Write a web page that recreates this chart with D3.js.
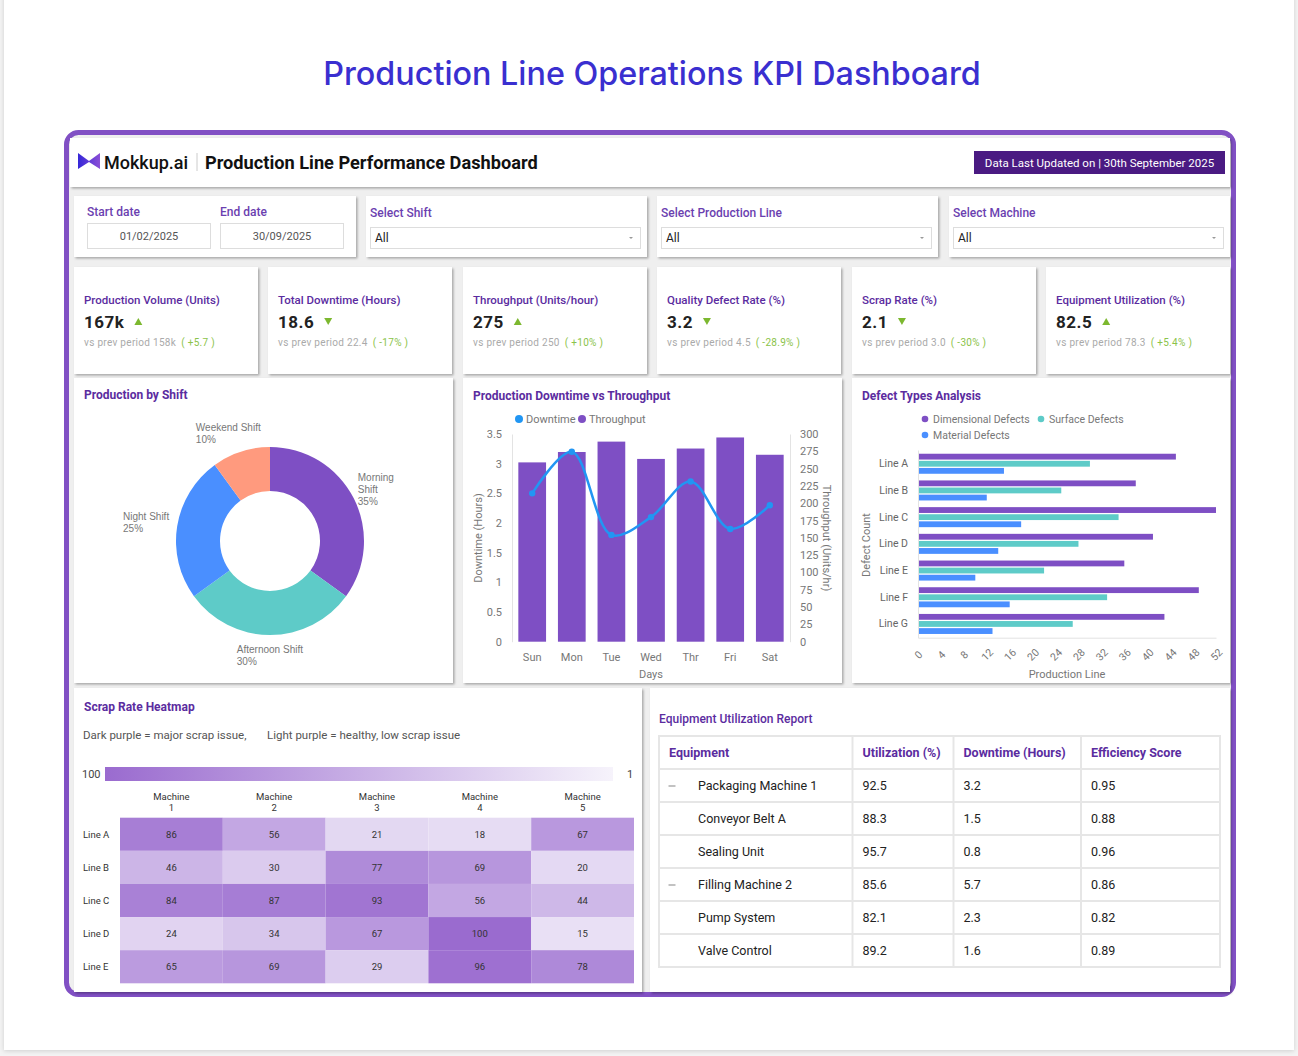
<!DOCTYPE html>
<html lang="en">
<head>
<meta charset="UTF-8">
<title>Production Line Operations KPI Dashboard</title>
<script src="https://cdn.jsdelivr.net/npm/d3@7/dist/d3.min.js"></script>
<style>
  * { margin: 0; padding: 0; }
  body { background: #f3f3f3; font-family: Roboto, sans-serif; }
  svg { display: block; }
</style>
</head>
<body>
<svg id="dash"></svg>
<script>
// ---- data ----
const kpiTitles = ['Production Volume (Units)', 'Total Downtime (Hours)', 'Throughput (Units/hour)',
  'Quality Defect Rate (%)', 'Scrap Rate (%)', 'Equipment Utilization (%)'];
const kpiValues = ['167k', '18.6', '275', '3.2', '2.1', '82.5'];
const kpiPrev = ['158k', '22.4', '250', '4.5', '3.0', '78.3'];
const kpiChange = ['+5.7', '-17%', '+10%', '-28.9%', '-30%', '+5.4%'];
const kpiUp = [true, false, true, false, false, true];

const shiftNames = ['Morning Shift', 'Afternoon Shift', 'Night Shift', 'Weekend Shift'];
const shiftShare = [35, 30, 25, 10];

const days = ['Sun', 'Mon', 'Tue', 'Wed', 'Thr', 'Fri', 'Sat'];
const downtimeHours = [2.5, 3.2, 1.8, 2.1, 2.7, 1.9, 2.3];
const throughputUnits = [259, 274, 289, 264, 279, 295, 270];

const prodLines = ['Line A', 'Line B', 'Line C', 'Line D', 'Line E', 'Line F', 'Line G'];
const defectSeries = ['Dimensional Defects', 'Surface Defects', 'Material Defects'];
const dimensionalDefects = [45, 38, 52, 41, 36, 49, 43];
const surfaceDefects = [30, 25, 35, 28, 22, 33, 27];
const materialDefects = [15, 12, 18, 14, 10, 16, 13];

const heatLines = ['Line A', 'Line B', 'Line C', 'Line D', 'Line E'];
const machines = ['Machine 1', 'Machine 2', 'Machine 3', 'Machine 4', 'Machine 5'];
const scrapValues = [
  [86, 56, 21, 18, 67],
  [46, 30, 77, 69, 20],
  [84, 87, 93, 56, 44],
  [24, 34, 67, 100, 15],
  [65, 69, 29, 96, 78]
];

const tableHeaders = ['Equipment', 'Utilization (%)', 'Downtime (Hours)', 'Efficiency Score'];
const equipmentNames = ['Packaging Machine 1', 'Conveyor Belt A', 'Sealing Unit', 'Filling Machine 2', 'Pump System', 'Valve Control'];
const utilizationPct = ['92.5', '88.3', '95.7', '85.6', '82.1', '89.2'];
const downtimeHrs = ['3.2', '1.5', '0.8', '5.7', '2.3', '1.6'];
const efficiencyScore = ['0.95', '0.88', '0.96', '0.86', '0.82', '0.89'];
const isGroupRow = [true, false, false, true, false, false];

// ---- colours ----
const titlePurple = '#5b2c9f';
const barPurple = '#7e4fc4';
const teal = '#5ecbc8';
const blue = '#4a8fff';
const lineBlue = '#2196f3';
const salmon = '#ff9a7e';
const green = '#7cb82f';

const svg = d3.select('#dash').attr('width', 1298).attr('height', 1056);
const defs = svg.append('defs');
defs.append('filter').attr('id', 'shadow').attr('x', '-5%').attr('y', '-5%').attr('width', '110%').attr('height', '115%')
  .append('feDropShadow').attr('dx', 1.5).attr('dy', 1.5).attr('stdDeviation', 1.2)
  .attr('flood-color', '#000').attr('flood-opacity', 0.3);
defs.append('filter').attr('id', 'pageShadow')
  .append('feDropShadow').attr('dx', 0).attr('dy', 1).attr('stdDeviation', 2)
  .attr('flood-color', '#000').attr('flood-opacity', 0.15);

// page + title
svg.append('rect').attr('x', 4).attr('y', -10).attr('width', 1290).attr('height', 1060)
  .attr('fill', '#fff').attr('filter', 'url(#pageShadow)');
svg.append('text').attr('x', 652).attr('y', 85).attr('text-anchor', 'middle')
  .attr('font-family', 'Inter, Roboto, sans-serif').attr('font-size', 32.3).attr('font-weight', 500)
  .attr('fill', '#3a2fd0').text('Production Line Operations KPI Dashboard');

// purple frame
svg.append('rect').attr('x', 66.5).attr('y', 132.5).attr('width', 1167).attr('height', 862).attr('rx', 12)
  .attr('fill', '#efefef').attr('stroke', '#8150c4').attr('stroke-width', 5);

function card(x, y, w, h) {
  const g = svg.append('g').attr('transform', `translate(${x},${y})`);
  g.append('rect').attr('width', w).attr('height', h).attr('fill', '#fff').attr('filter', 'url(#shadow)');
  return g;
}
function label(g, x, y, txt, size, color, weight) {
  return g.append('text').attr('x', x).attr('y', y).attr('font-size', size)
    .attr('fill', color).attr('font-weight', weight || 400).text(txt);
}

// ---- header ----
const head = card(70, 138, 1160, 49);
const lg = defs.append('linearGradient').attr('id', 'logoGrad');
lg.append('stop').attr('offset', '0%').attr('stop-color', '#3527d8');
lg.append('stop').attr('offset', '100%').attr('stop-color', '#8b4fd6');
head.append('path').attr('d', 'M8,15 L19,23 L30,15 L30,31 L19,24 L8,31 Z').attr('fill', 'url(#logoGrad)');
label(head, 34, 31, 'Mokkup.ai', 18, '#111', 500);
head.append('line').attr('x1', 127).attr('x2', 127).attr('y1', 15).attr('y2', 33).attr('stroke', '#ccc');
label(head, 135, 31, 'Production Line Performance Dashboard', 18.2, '#111', 700);
head.append('rect').attr('x', 904).attr('y', 13).attr('width', 251).attr('height', 23).attr('fill', '#4a1a82');
head.append('text').attr('x', 1029.5).attr('y', 28.5).attr('text-anchor', 'middle').attr('font-size', 11.5)
  .attr('fill', '#fff').text('Data Last Updated on | 30th September 2025');

// ---- filters ----
const f1 = card(74, 196, 282, 61);
label(f1, 13, 20, 'Start date', 12, '#6b3fb0', 500);
label(f1, 146, 20, 'End date', 12, '#6b3fb0', 500);
[['01/02/2025', 13.5], ['30/09/2025', 146.5]].forEach(([d, x]) => {
  f1.append('rect').attr('x', x).attr('y', 27.5).attr('width', 123).attr('height', 25)
    .attr('fill', '#fff').attr('stroke', '#ddd');
  f1.append('text').attr('x', x + 61.5).attr('y', 44).attr('text-anchor', 'middle')
    .attr('font-size', 11).attr('fill', '#555').text(d);
});
[['Select Shift', 366], ['Select Production Line', 657], ['Select Machine', 949]].forEach(([t, x]) => {
  const g = card(x, 196, 281, 61);
  label(g, 4, 21, t, 12, '#6b3fb0', 500);
  g.append('rect').attr('x', 4.5).attr('y', 31.5).attr('width', 270).attr('height', 21)
    .attr('fill', '#fff').attr('stroke', '#ddd');
  label(g, 9, 46, 'All', 12, '#222');
  g.append('path').attr('d', 'M263,41 L267,41 L265,43 Z').attr('fill', '#999');
});

// ---- KPI cards ----
const kpiX = [74, 268, 463, 657, 852, 1046];
kpiTitles.forEach((t, i) => {
  const g = card(kpiX[i], 267, 184, 107);
  label(g, 10, 37, t, 11.5, titlePurple, 500);
  const v = label(g, 10, 61, kpiValues[i], 17, '#222', 700).attr('letter-spacing', 0.5);
  const vw = v.node().getComputedTextLength();
  const ax = 10 + vw + 14;
  g.append('path').attr('d', kpiUp[i] ? `M${ax - 4},58 L${ax + 4},58 L${ax},51 Z` : `M${ax - 4},51 L${ax + 4},51 L${ax},58 Z`)
    .attr('fill', green);
  const s = g.append('text').attr('x', 10).attr('y', 79).attr('font-size', 10).attr('letter-spacing', 0.3).attr('fill', '#aaa');
  s.append('tspan').text(`vs prev period ${kpiPrev[i]}`);
  s.append('tspan').attr('dx', 5).attr('fill', '#8bc34a').text(`( ${kpiChange[i]} )`);
});

// ---- Production by Shift (donut) ----
const c1 = card(74, 378, 379, 305);
label(c1, 10, 21, 'Production by Shift', 12, titlePurple, 700);
const shiftColor = d3.scaleOrdinal().domain(shiftNames).range([barPurple, teal, blue, salmon]);
const pie = d3.pie().sort(null).value(d => d.v);
const arcs = pie(shiftNames.map((n, i) => ({ name: n, v: shiftShare[i] })));
const arc = d3.arc().innerRadius(50).outerRadius(94);
const dg = svg.append('g').attr('transform', 'translate(270,541)');
dg.selectAll('path').data(arcs).enter().append('path')
  .attr('d', arc).attr('fill', d => shiftColor(d.data.name));
const labelArc = d3.arc().innerRadius(112).outerRadius(112);
arcs.forEach(d => {
  const [cx, cy] = labelArc.centroid(d);
  const lines = cx > 40 ? d.data.name.split(' ') : [d.data.name];
  lines.push(d.data.v + '%');
  const t = dg.append('text').attr('font-family', '"Liberation Sans", Arial, sans-serif')
    .attr('font-size', 10).attr('fill', '#777');
  lines.forEach((l, j) => t.append('tspan').attr('x', 0).attr('dy', j ? 12 : 0).text(l));
  const w = t.node().getBBox().width;
  let x = cx > 40 ? cx - 12 : cx < -40 ? cx - w + 10 : cx - w / 2;
  let y = cy - (lines.length - 1) * 6 + 3;
  if (Math.abs(cx) <= 40 && cy > 0) y = cy;
  if (Math.abs(cx) <= 40 && cy < 0) { y = cy - 3; x -= 7; }
  t.attr('transform', `translate(${x},${y})`);
});

// ---- Production Downtime vs Throughput ----
const c2 = card(463, 378, 379, 305);
label(c2, 10, 22, 'Production Downtime vs Throughput', 12, titlePurple, 700);
const xDay = d3.scaleBand().domain(days).range([512, 790]).paddingInner(0.3).paddingOuter(0.16);
const yDown = d3.scaleLinear().domain([0, 3.5]).range([641.7, 434]);
const yThru = d3.scaleLinear().domain([0, 300]).range([641.7, 434]);
svg.append('g').selectAll('rect').data(days).enter().append('rect')
  .attr('x', d => xDay(d)).attr('width', xDay.bandwidth())
  .attr('y', (d, i) => yThru(throughputUnits[i])).attr('height', (d, i) => yThru(0) - yThru(throughputUnits[i]))
  .attr('fill', barPurple);
const dLine = d3.line().x((d, i) => xDay(days[i]) + xDay.bandwidth() / 2).y(d => yDown(d)).curve(d3.curveCatmullRom);
svg.append('path').attr('d', dLine(downtimeHours)).attr('fill', 'none').attr('stroke', lineBlue).attr('stroke-width', 2.5);
svg.append('g').selectAll('circle').data(downtimeHours).enter().append('circle')
  .attr('cx', (d, i) => xDay(days[i]) + xDay.bandwidth() / 2).attr('cy', d => yDown(d)).attr('r', 3.2).attr('fill', lineBlue);

function styleAxis(g, size, color) {
  g.selectAll('text').attr('font-size', size).attr('fill', color).attr('font-family', 'Roboto, sans-serif');
  g.select('.domain').attr('stroke', '#e3e3e3');
}
svg.append('g').attr('transform', 'translate(512,0)')
  .call(d3.axisLeft(yDown).tickValues(d3.range(0, 3.51, 0.5)).tickFormat(d3.format('~g')).tickSize(0).tickPadding(10))
  .call(g => styleAxis(g, 11, '#777'));
svg.append('g').attr('transform', 'translate(790,0)')
  .call(d3.axisRight(yThru).tickValues(d3.range(0, 301, 25)).tickSize(0).tickPadding(10))
  .call(g => styleAxis(g, 11, '#777'));
svg.append('g').attr('transform', 'translate(0,641.7)')
  .call(d3.axisBottom(xDay).tickSize(0).tickPadding(12))
  .call(g => { styleAxis(g, 11, '#777'); g.select('.domain').remove(); });
svg.append('text').attr('x', 651).attr('y', 678).attr('text-anchor', 'middle').attr('font-size', 11).attr('fill', '#777').text('Days');
svg.append('text').attr('transform', 'translate(482,538) rotate(-90)').attr('text-anchor', 'middle')
  .attr('font-size', 11).attr('fill', '#777').text('Downtime (Hours)');
svg.append('text').attr('transform', 'translate(823,538) rotate(90)').attr('text-anchor', 'middle')
  .attr('font-size', 11).attr('fill', '#777').text('Throughput (Units/hr)');
const leg2 = svg.append('g').attr('font-size', 11).attr('fill', '#777');
[['Downtime', lineBlue, 519], ['Throughput', barPurple, 582]].forEach(([t, c, x]) => {
  leg2.append('circle').attr('cx', x).attr('cy', 419).attr('r', 4).attr('fill', c);
  leg2.append('text').attr('x', x + 7).attr('y', 423).text(t);
});

// ---- Defect Types Analysis ----
const c3 = card(852, 378, 378, 305);
label(c3, 10, 22, 'Defect Types Analysis', 12, titlePurple, 700);
const defectData = [dimensionalDefects, surfaceDefects, materialDefects];
const defectColor = d3.scaleOrdinal().domain(defectSeries).range([barPurple, teal, blue]);
const yLine = d3.scaleBand().domain(prodLines).range([450, 637.7]).paddingInner(0.25).paddingOuter(0.14);
const ySub = d3.scaleBand().domain(defectSeries).range([0, yLine.bandwidth()]).paddingInner(0.18);
const xDef = d3.scaleLinear().domain([0, 52]).range([918, 1216]);
const dgroups = svg.append('g').selectAll('g').data(prodLines).enter().append('g')
  .attr('transform', d => `translate(0,${yLine(d)})`);
dgroups.selectAll('rect').data((d, i) => defectSeries.map((s, k) => ({ s, v: defectData[k][i] }))).enter().append('rect')
  .attr('x', xDef(0)).attr('y', d => ySub(d.s)).attr('height', ySub.bandwidth())
  .attr('width', d => xDef(d.v) - xDef(0)).attr('fill', d => defectColor(d.s));
svg.append('g').attr('transform', 'translate(918,0)')
  .call(d3.axisLeft(yLine).tickSize(0).tickPadding(10))
  .call(g => styleAxis(g, 10.5, '#666'));
svg.append('g').attr('transform', 'translate(0,637.7)')
  .call(d3.axisBottom(xDef).tickValues(d3.range(0, 53, 4)).tickSize(0))
  .call(g => {
    styleAxis(g, 10.5, '#777');
    g.selectAll('text').attr('y', 0).attr('dy', '0.35em').attr('text-anchor', 'middle')
      .attr('transform', 'translate(0,17) rotate(-45)');
  });
svg.append('text').attr('x', 1067).attr('y', 678).attr('text-anchor', 'middle').attr('font-size', 11).attr('fill', '#777').text('Production Line');
svg.append('text').attr('transform', 'translate(870,545) rotate(-90)').attr('text-anchor', 'middle')
  .attr('font-size', 11).attr('fill', '#777').text('Defect Count');
const leg3 = svg.append('g').attr('font-size', 10.5).attr('fill', '#777');
[[defectSeries[0], 925, 419], [defectSeries[1], 1041, 419], [defectSeries[2], 925, 435]].forEach(([t, x, y]) => {
  leg3.append('circle').attr('cx', x).attr('cy', y).attr('r', 3.3).attr('fill', defectColor(t));
  leg3.append('text').attr('x', x + 8).attr('y', y + 4).text(t);
});

// ---- Scrap Rate Heatmap ----
const c4 = card(74, 688, 568, 304);
label(c4, 10, 23, 'Scrap Rate Heatmap', 12, titlePurple, 700);
const hs = c4.append('text').attr('x', 9).attr('y', 51).attr('font-size', 11.5).attr('fill', '#555');
hs.append('tspan').text('Dark purple = major scrap issue,');
hs.append('tspan').attr('x', 193).text('Light purple = healthy, low scrap issue');
const heatColor = d3.scaleLinear().domain([1, 100]).range(['#f6f3fb', '#9a6bcf']);
const hg = defs.append('linearGradient').attr('id', 'heatGrad');
hg.append('stop').attr('offset', '0%').attr('stop-color', heatColor(100));
hg.append('stop').attr('offset', '100%').attr('stop-color', heatColor(1));
svg.append('rect').attr('x', 105).attr('y', 767).attr('width', 508).attr('height', 14).attr('fill', 'url(#heatGrad)');
svg.append('text').attr('x', 82).attr('y', 778).attr('font-size', 11).attr('fill', '#444').text('100');
svg.append('text').attr('x', 627).attr('y', 778).attr('font-size', 11).attr('fill', '#444').text('1');
const xM = d3.scaleBand().domain(machines).range([120, 634]);
const yH = d3.scaleBand().domain(heatLines).range([817.7, 983.3]);
const cells = [];
heatLines.forEach((l, r) => machines.forEach((m, c) => cells.push({ l, m, v: scrapValues[r][c] })));
svg.append('g').selectAll('rect').data(cells).enter().append('rect')
  .attr('x', d => xM(d.m)).attr('y', d => yH(d.l)).attr('width', xM.bandwidth()).attr('height', yH.bandwidth())
  .attr('fill', d => heatColor(d.v));
svg.append('g').selectAll('text').data(cells).enter().append('text')
  .attr('x', d => xM(d.m) + xM.bandwidth() / 2).attr('y', d => yH(d.l) + yH.bandwidth() / 2 + 3.5)
  .attr('text-anchor', 'middle').attr('font-size', 9.5).attr('fill', '#333').text(d => d.v);
machines.forEach(m => {
  const t = svg.append('text').attr('text-anchor', 'middle').attr('font-size', 9.5).attr('fill', '#333');
  const [a, b] = m.split(' ');
  t.append('tspan').attr('x', xM(m) + xM.bandwidth() / 2).attr('y', 800).text(a);
  t.append('tspan').attr('x', xM(m) + xM.bandwidth() / 2).attr('y', 811).text(b);
});
heatLines.forEach(l => {
  svg.append('text').attr('x', 83).attr('y', yH(l) + yH.bandwidth() / 2 + 3.5)
    .attr('font-size', 9.5).attr('fill', '#333').text(l);
});

// ---- Equipment Utilization Report ----
const c5 = card(650, 688, 580, 304);
label(c5, 9, 35, 'Equipment Utilization Report', 12, titlePurple, 500);
const colX = [659, 852.5, 953.5, 1081, 1220];
const rowY = d3.scaleBand().domain(d3.range(equipmentNames.length + 1)).range([736, 967]);
const tb = svg.append('g');
tb.append('rect').attr('x', colX[0]).attr('y', 736).attr('width', colX[4] - colX[0]).attr('height', 231)
  .attr('fill', 'none').attr('stroke', '#e6e6e6').attr('stroke-width', 2);
colX.slice(1, 4).forEach(x => tb.append('line').attr('x1', x).attr('x2', x).attr('y1', 736).attr('y2', 967)
  .attr('stroke', '#e6e6e6').attr('stroke-width', 2));
d3.range(1, equipmentNames.length + 1).forEach(r => tb.append('line').attr('x1', colX[0]).attr('x2', colX[4])
  .attr('y1', rowY(r)).attr('y2', rowY(r)).attr('stroke', '#e6e6e6').attr('stroke-width', 2));
tableHeaders.forEach((h, c) => {
  tb.append('text').attr('x', colX[c] + 10).attr('y', rowY(0) + rowY.bandwidth() / 2 + 4.5)
    .attr('font-size', 12.5).attr('font-weight', 700).attr('fill', titlePurple).text(h);
});
equipmentNames.forEach((n, i) => {
  const y = rowY(i + 1) + rowY.bandwidth() / 2 + 4.5;
  if (isGroupRow[i]) tb.append('line').attr('x1', 668.5).attr('x2', 675.5).attr('y1', y - 4).attr('y2', y - 4)
    .attr('stroke', '#999').attr('stroke-width', 1.2);
  tb.append('text').attr('x', 698).attr('y', y).attr('font-size', 12.5).attr('fill', '#222').text(n);
  [utilizationPct[i], downtimeHrs[i], efficiencyScore[i]].forEach((v, c) => {
    tb.append('text').attr('x', colX[c + 1] + 10).attr('y', y).attr('font-size', 12.5).attr('fill', '#222').text(v);
  });
});
</script>
</body>
</html>
